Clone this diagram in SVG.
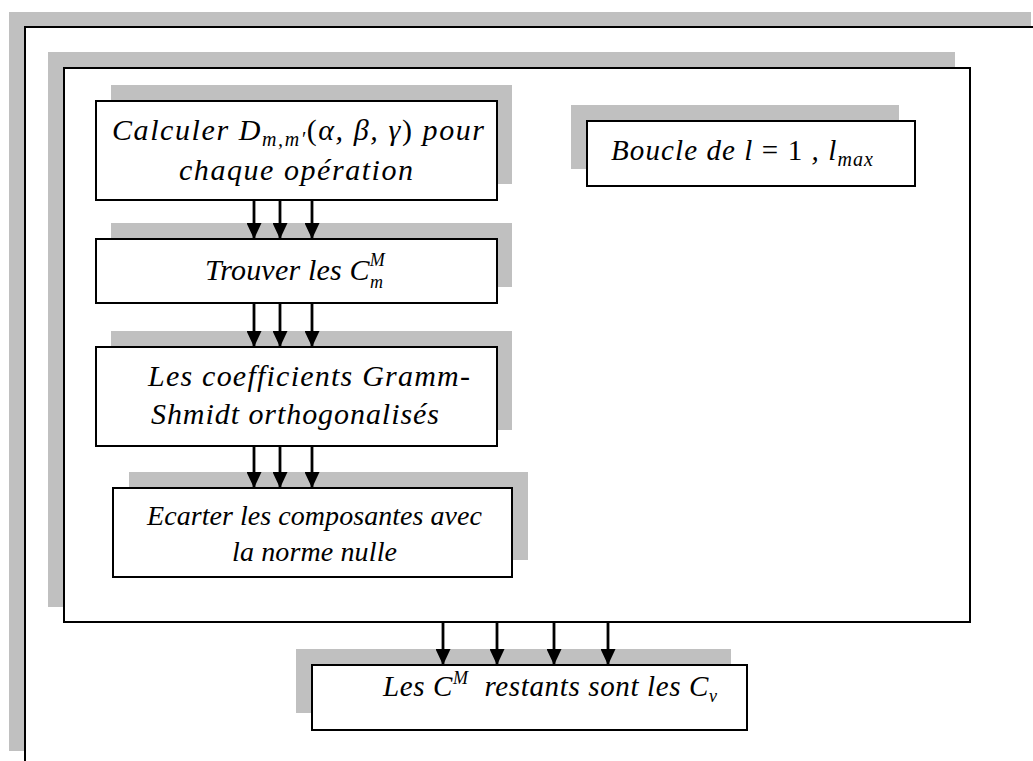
<svg xmlns="http://www.w3.org/2000/svg" width="1033" height="761" viewBox="0 0 1033 761">
<style>
.sh{fill:#c0c0c0;stroke:none}
.bx{fill:#fff;stroke:#000;stroke-width:2}
.t{font-family:"Liberation Serif",serif;font-style:italic;font-size:30px;fill:#000}
.m{font-size:29px}
.e{font-size:28px}
.up{font-style:normal}
.s{font-size:20px}
.ss{font-size:18px}
.cn{stroke:#000;stroke-width:2.8;fill:none;marker-end:url(#ah)}
</style>
<defs>
<marker id="ah" markerUnits="userSpaceOnUse" markerWidth="16" markerHeight="15" viewBox="0 0 16 15" refX="16" refY="7.5" orient="auto">
<path d="M0,0 L16,7.5 L0,15 z" fill="#000"/>
</marker>
</defs>
<rect width="1033" height="761" fill="#fff"/>
<g id="outer">
<rect class="sh" x="9" y="12" width="1022" height="739"/>
<rect class="bx" x="25" y="27" width="1030" height="760"/>
</g>
<g id="loop">
<rect class="sh" x="48" y="52" width="907" height="555"/>
<rect class="bx" x="64" y="68" width="906" height="554"/>
</g>
<g id="calculer">
<rect class="sh" x="111" y="85" width="401" height="99"/>
<rect class="bx" x="96" y="101" width="401" height="99"/>
<text class="t" x="112" y="140" textLength="372" lengthAdjust="spacing">Calculer D<tspan class="s" dy="6">m,m′</tspan><tspan class="up" dy="-6">(</tspan>α, β, γ<tspan class="up">)</tspan> pour</text>
<text class="t" x="179" y="180" textLength="234" lengthAdjust="spacing">chaque opération</text>
</g>
<g id="boucle">
<rect class="sh" x="571" y="105" width="328" height="64"/>
<rect class="bx" x="587" y="121" width="328" height="65"/>
<text class="t m" x="611" y="160" textLength="262" lengthAdjust="spacing">Boucle de l<tspan class="up"> = 1 </tspan>, l<tspan class="s" dy="6">max</tspan></text>
</g>
<g id="trouver">
<rect class="sh" x="111" y="223" width="401" height="64"/>
<rect class="bx" x="96" y="239" width="401" height="64"/>
<text class="t" x="205" y="280" textLength="180" lengthAdjust="spacing">Trouver les C<tspan class="ss" dy="-14">M</tspan><tspan class="ss" dx="-15" dy="22">m</tspan></text>
</g>
<g id="gramm">
<rect class="sh" x="111" y="331" width="401" height="99"/>
<rect class="bx" x="96" y="347" width="401" height="99"/>
<text class="t" x="148" y="386" textLength="322" lengthAdjust="spacing">Les coefficients Gramm-</text>
<text class="t" x="151" y="424" textLength="288" lengthAdjust="spacing">Shmidt orthogonalisés</text>
</g>
<g id="ecarter">
<rect class="sh" x="129" y="472" width="399" height="88"/>
<rect class="bx" x="113" y="488" width="399" height="89"/>
<text class="t e" x="147" y="525" textLength="335" lengthAdjust="spacing">Ecarter les composantes avec</text>
<text class="t e" x="232" y="561" textLength="165" lengthAdjust="spacing">la norme nulle</text>
</g>
<g id="restants">
<rect class="sh" x="296" y="649" width="435" height="64"/>
<rect class="bx" x="312" y="665" width="435" height="65"/>
<text class="t m" x="383" y="696" textLength="334" lengthAdjust="spacing">Les C<tspan class="ss" dy="-12">M</tspan><tspan dy="12" xml:space="preserve">  restants sont les C</tspan><tspan class="ss" dy="6">v</tspan></text>
</g>
<g id="connectors">
<line class="cn" x1="254" y1="201" x2="254" y2="239"/>
<line class="cn" x1="280" y1="201" x2="280" y2="239"/>
<line class="cn" x1="312" y1="201" x2="312" y2="239"/>
<line class="cn" x1="254" y1="304" x2="254" y2="347"/>
<line class="cn" x1="280" y1="304" x2="280" y2="347"/>
<line class="cn" x1="312" y1="304" x2="312" y2="347"/>
<line class="cn" x1="254" y1="447" x2="254" y2="488"/>
<line class="cn" x1="280" y1="447" x2="280" y2="488"/>
<line class="cn" x1="312" y1="447" x2="312" y2="488"/>
<line class="cn" x1="443" y1="623" x2="443" y2="665"/>
<line class="cn" x1="497" y1="623" x2="497" y2="665"/>
<line class="cn" x1="554" y1="623" x2="554" y2="665"/>
<line class="cn" x1="608" y1="623" x2="608" y2="665"/>
</g>
</svg>
